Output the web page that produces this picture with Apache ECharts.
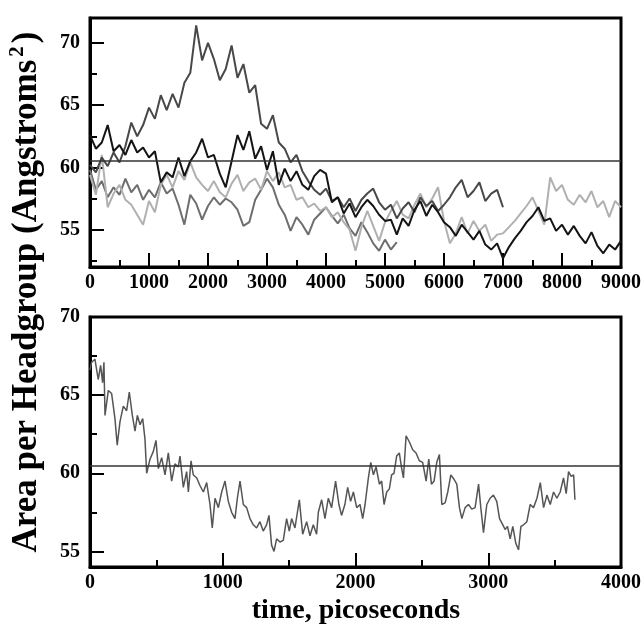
<!DOCTYPE html>
<html><head><meta charset="utf-8">
<script src="https://cdn.jsdelivr.net/npm/echarts@6/dist/echarts.min.js"></script>
<style>html,body{margin:0;padding:0;background:#fff}#c{width:644px;height:625px}</style>
</head><body><div id="c"></div>
<script>
// ---------- DATA ----------
const topStep = 100; // ps between samples in the upper panel
const runA = [60.2,59.6,60.8,60.1,61.2,60.4,61.7,63.6,62.5,63.4,
  64.8,63.9,65.8,64.6,65.9,64.8,66.8,67.6,71.4,68.6,
  70.0,68.7,67.0,67.9,69.8,67.2,68.3,66.0,66.6,63.5,
  63.1,64.2,62.0,61.5,60.4,61.0,59.7,58.9,58.2,57.8,
  58.3,57.3,57.6,56.8,57.5,56.5,57.4,57.9,58.3,57.2,
  56.6,57.0,55.9,56.7,57.2,56.4,57.6,56.9,57.3,56.5,
  57.0,57.6,58.4,59.0,57.6,58.1,58.8,57.3,57.9,58.2,
  56.8];
const runB = [62.6,61.5,62.0,63.4,61.3,61.8,61.0,62.2,61.2,61.6,
  60.8,61.3,58.8,59.6,59.2,60.8,59.3,60.5,61.2,62.3,
  60.8,61.0,59.5,58.4,60.5,62.6,61.4,62.9,60.7,61.7,
  59.8,61.3,58.6,59.9,58.9,59.7,58.6,58.2,59.3,59.8,
  59.5,57.2,57.6,56.3,57.1,56.0,56.8,57.4,56.9,56.2,
  55.7,55.8,54.6,55.9,55.3,56.6,57.3,56.1,57.0,56.4,
  55.6,55.2,54.5,55.4,54.8,54.2,54.9,53.8,53.4,53.9,
  52.7,53.6,54.3,54.9,55.6,56.1,56.8,55.7,55.9,54.9,
  55.4,54.6,55.3,54.5,53.9,54.8,53.7,53.1,53.8,53.4,
  54.1];
const runC = [59.4,57.8,61.0,56.8,57.9,58.6,57.4,57.0,56.2,55.4,
  57.3,56.4,58.6,59.4,58.4,59.7,59.0,60.4,59.2,58.6,
  58.1,58.9,58.0,57.6,58.7,59.4,58.1,58.8,59.1,58.2,
  59.7,58.9,59.6,58.4,58.6,57.4,57.6,56.8,57.1,56.5,
  56.8,56.0,56.4,55.6,55.0,53.3,55.2,56.5,55.3,54.1,
  55.6,56.5,57.3,56.2,55.9,57.0,57.9,56.8,57.5,58.4,
  55.7,53.9,54.7,56.0,54.7,55.7,54.9,55.4,54.1,54.6,
  54.7,55.2,55.7,56.3,56.9,57.6,56.5,55.4,59.2,58.1,
  58.6,57.4,57.0,57.8,57.2,58.1,56.8,57.3,56.0,57.3,
  56.8];
const runD = [59.8,58.2,58.9,57.6,58.4,57.8,59.1,58.0,58.6,57.4,
  58.2,57.6,58.8,57.9,58.3,57.0,55.4,57.8,57.1,55.8,
  56.9,57.6,57.0,57.5,57.2,56.6,55.3,55.6,57.4,58.2,
  59.1,58.4,57.0,56.2,54.9,56.0,55.4,54.6,55.8,56.3,
  56.8,56.1,55.5,56.2,55.1,54.5,55.6,54.8,53.9,53.3,
  54.2,53.4,54.0];
const lowerTime = [0,12,37,62,80,95,105,113,138,163,
  188,205,226,251,276,296,319,339,357,377,
  397,414,427,452,477,497,515,540,565,590,
  615,640,665,678,703,728,741,761,778,804,
  829,854,879,904,921,942,967,992,1017,1042,
  1067,1092,1110,1130,1155,1180,1205,1230,1255,1280,
  1305,1330,1348,1368,1386,1406,1431,1456,1481,1501,
  1519,1544,1577,1602,1632,1657,1682,1707,1720,1745,
  1770,1795,1820,1850,1875,1895,1920,1941,1963,1984,
  2009,2034,2054,2072,2097,2115,2135,2155,2180,2197,
  2215,2235,2255,2272,2290,2310,2330,2348,2361,2381,
  2406,2431,2456,2481,2506,2532,2552,2572,2592,2612,
  2632,2650,2675,2695,2718,2743,2763,2783,2801,2826,
  2851,2876,2901,2927,2944,2964,2989,3014,3039,3064,
  3085,3110,3127,3145,3165,3185,3208,3228,3246,3266,
  3291,3316,3341,3367,3392,3417,3442,3467,3492,3517,
  3542,3567,3587,3605,3625,3643,3653];
const lowerArea = [66.6,67.1,67.3,66.0,66.9,65.8,67.1,63.7,65.3,65.1,
  63.5,61.8,63.3,64.3,64.0,65.2,63.7,62.7,63.7,63.1,
  63.5,62.2,60.0,60.9,61.4,62.1,60.3,61.0,59.9,61.3,
  59.5,60.6,60.4,61.1,59.1,60.1,58.8,60.8,59.9,59.7,
  59.2,58.8,59.4,58.0,56.5,58.4,57.8,58.8,59.5,58.2,
  57.5,57.1,58.4,59.5,58.0,57.8,57.1,56.7,56.5,56.9,
  56.3,56.7,57.3,55.4,55.0,55.8,55.6,55.7,57.1,56.3,
  57.1,56.5,58.3,56.1,56.9,56.0,56.7,56.1,57.5,58.3,
  57.1,58.4,57.8,59.5,58.0,57.3,58.0,59.1,58.2,58.8,
  57.8,58.0,57.1,58.0,59.7,60.7,59.9,60.4,59.3,59.5,
  58.0,58.8,59.0,59.9,60.0,61.1,61.3,60.3,59.7,62.4,
  62.0,61.5,61.3,60.8,60.7,59.5,60.9,59.3,59.5,60.7,
  61.2,58.0,58.1,58.8,59.9,59.6,59.3,57.8,57.1,57.8,
  58.0,57.7,57.8,59.3,57.8,56.2,58.0,58.4,58.6,58.2,
  57.1,56.7,56.4,56.6,55.8,56.6,55.5,55.1,56.6,56.7,
  56.9,58.0,57.8,58.4,59.4,57.8,58.6,58.0,58.8,58.4,
  58.8,59.7,58.7,60.1,59.8,59.9,58.3];
const refArea = 60.5;
const topYLabels = [55,60,65,70];
const topYMinor = [52.5,57.5,62.5,67.5];
const lowYLabels = [55,60,65,70];
const lowYMinor = [57.5,62.5,67.5];

// ---------- CHART ----------
const FONT = "'Liberation Serif','Times New Roman',serif";
const lbl = {color:'#000', fontFamily:FONT, fontWeight:'bold', fontSize:20, formatter:(v)=>String(v)};
const toPairs = (vals, step) => vals.map((v,i)=>[i*step, v]);
const zip = (xs, ys) => xs.map((x,i)=>[x, ys[i]]);

function xAx(gi, max){
  return {type:'value', gridIndex:gi, min:0, max:max, interval:1000,
    axisLine:{show:true, lineStyle:{color:'#000', width:3}},
    axisTick:{show:true, inside:true, length:14, lineStyle:{color:'#000', width:2}},
    minorTick:{show:true, splitNumber:2, length:7, lineStyle:{color:'#000', width:2}},
    axisLabel:Object.assign({margin:6, showMinLabel:true, showMaxLabel:true}, lbl),
    splitLine:{show:false}};
}
function yAx(gi, min, max, majors){
  return {type:'value', gridIndex:gi, min:min, max:max,
    axisLine:{show:true, lineStyle:{color:'#000', width:3}},
    axisTick:{show:true, inside:true, length:14, customValues:majors, lineStyle:{color:'#000', width:2}},
    axisLabel:Object.assign({margin:10, customValues:majors}, lbl),
    splitLine:{show:false}};
}
function yMinor(gi, min, max, minors){
  return {type:'value', gridIndex:gi, min:min, max:max, position:'left',
    axisLine:{show:false},
    axisTick:{show:true, inside:true, length:7, customValues:minors, lineStyle:{color:'#000', width:2}},
    axisLabel:{show:false}, splitLine:{show:false}};
}
const refLine = {silent:true, symbol:'none', label:{show:false},
  lineStyle:{color:'#333', width:1.5, type:'solid'}, data:[{yAxis:refArea}]};
function run(name, vals, color, xi, yi, w){
  return {name:name, type:'line', xAxisIndex:xi, yAxisIndex:yi, data:toPairs(vals, topStep),
    showSymbol:false, symbol:'none', lineStyle:{color:color, width:w||2}};
}

const chart = echarts.init(document.getElementById('c'), null, {renderer:'canvas'});
chart.setOption({
  backgroundColor:'#fff',
  animation:false,
  grid:[
    {left:90, top:18, width:531, height:249, show:true, borderColor:'#000', borderWidth:3, backgroundColor:'transparent'},
    {left:90, top:317, width:531, height:250, show:true, borderColor:'#000', borderWidth:3, backgroundColor:'transparent'}
  ],
  xAxis:[xAx(0, 9000), xAx(1, 4000)],
  yAxis:[yAx(0, 52, 72, topYLabels), yMinor(0, 52, 72, topYMinor),
         yAx(1, 54, 70, lowYLabels), yMinor(1, 54, 70, lowYMinor)],
  series:[
    run('run D', runD, '#6e6e6e', 0, 0),
    run('run C', runC, '#b0b0b0', 0, 0),
    run('run A', runA, '#484848', 0, 0),
    Object.assign(run('run B', runB, '#141414', 0, 0), {markLine:refLine}),
    {name:'lower', type:'line', xAxisIndex:1, yAxisIndex:2, data:zip(lowerTime, lowerArea),
      showSymbol:false, symbol:'none', lineStyle:{color:'#555', width:1.5},
      markLine:refLine}
  ],
  graphic:[
    {type:'text', x:27, y:292, rotation:Math.PI/2,
      style:{text:'{m|Area per Headgroup (Angstroms}{s|2}{m|)}', align:'center', verticalAlign:'middle',
        fill:'#000', font:"bold 35px "+FONT,
        rich:{m:{fontSize:35, fontWeight:'bold', fontFamily:FONT, fill:'#000', lineHeight:40},
              s:{fontSize:21, fontWeight:'bold', fontFamily:FONT, fill:'#000', verticalAlign:'top', lineHeight:40, padding:[0,3,0,3]}}}},
    {type:'text', x:356, y:611,
      style:{text:'time, picoseconds', align:'center', verticalAlign:'middle', fill:'#000',
        font:"bold 28px "+FONT}}
  ]
});
</script>
</body></html>
